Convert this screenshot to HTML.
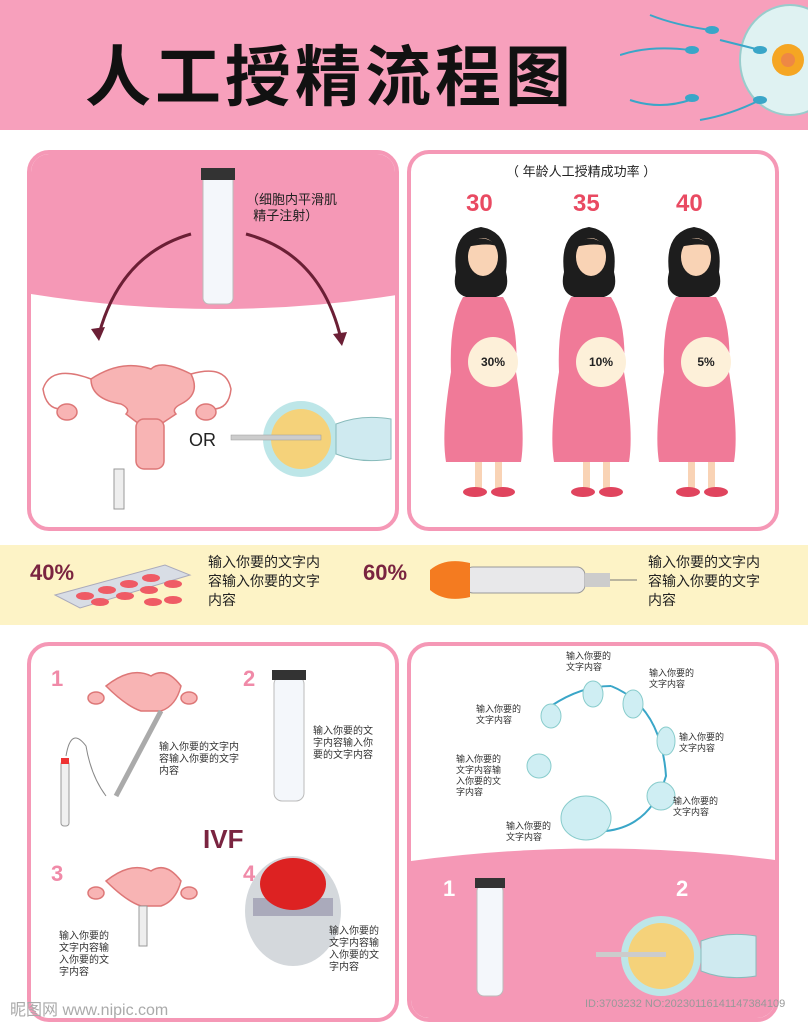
<!DOCTYPE html>
<html><head><meta charset="utf-8"><style>
body{margin:0;width:808px;height:1024px;position:relative;background:#fff;font-family:"Liberation Sans","Noto Sans CJK SC",sans-serif;overflow:hidden}
.a{position:absolute}
.panel{position:absolute;border:4px solid #f598b6;border-radius:22px;background:#fff;overflow:hidden;box-sizing:border-box}
.t{position:absolute;font-size:10px;line-height:12px;color:#333}
.num{position:absolute;font-size:22px;font-weight:bold;color:#f08aa8}
</style></head><body>
<div class="a" style="left:0;top:0;width:808px;height:130px;background:#f7a0bc"></div>
<div class="a" style="left:85px;top:24px;font-size:66px;font-weight:bold;color:#111;letter-spacing:4px;font-family:'Noto Sans CJK SC',sans-serif">人工授精流程图</div>
<svg class="a" style="left:620px;top:0" width="188" height="130">
<ellipse cx="790" cy="60" rx="50" ry="55" fill="#dff2f2" stroke="#9cc" stroke-width="2" transform="translate(-620,0)"/>
<circle cx="168" cy="60" r="16" fill="#f5a623"/><circle cx="168" cy="60" r="7" fill="#e84"/>
<g stroke="#3aa6c8" stroke-width="2" fill="none"><path d="M30 15 q25 10 60 15"/><path d="M0 55 q30 -10 70 -5"/><path d="M10 100 q30 10 60 0"/><path d="M80 120 q30 -5 60 -20"/><path d="M100 40 q20 5 40 10"/></g>
<g fill="#3aa6c8"><ellipse cx="92" cy="30" rx="7" ry="4"/><ellipse cx="72" cy="50" rx="7" ry="4"/><ellipse cx="72" cy="98" rx="7" ry="4"/><ellipse cx="140" cy="100" rx="7" ry="4"/><ellipse cx="140" cy="50" rx="7" ry="4"/></g>
</svg>

<div class="panel" style="left:27px;top:150px;width:372px;height:381px">
<svg class="a" style="left:0;top:0" width="372" height="381">
<path d="M0 0 H372 V140 Q186 170 0 140 Z" fill="#f598b6"/>
<path d="M160 80 Q90 100 68 180" stroke="#6b1f35" stroke-width="3" fill="none"/><path d="M60 175 l8 12 l6 -14z" fill="#6b1f35"/>
<path d="M215 80 Q290 100 310 185" stroke="#6b1f35" stroke-width="3" fill="none"/><path d="M302 180 l9 12 l5 -14z" fill="#6b1f35"/>
<rect x="172" y="20" width="30" height="130" rx="6" fill="#f4f7fb" stroke="#bbb"/>
<rect x="170" y="14" width="34" height="12" fill="#333"/>
<g fill="#f8b4b4" stroke="#d77" stroke-width="1.5">
<path d="M60 225 Q90 205 120 215 Q130 205 160 220 Q170 240 150 250 Q140 255 145 260 L130 270 L108 270 L95 260 Q100 255 90 250 Q60 245 60 225Z"/>
<path d="M60 225 Q20 210 12 235 Q15 255 30 255" fill="none"/>
<path d="M160 220 Q195 210 200 235 Q198 255 182 255" fill="none"/>
<ellipse cx="36" cy="258" rx="10" ry="8"/><ellipse cx="175" cy="258" rx="10" ry="8"/>
<rect x="105" y="265" width="28" height="50" rx="8"/>
</g>
<rect x="83" y="315" width="10" height="40" fill="#eee" stroke="#999"/>
<text x="158" y="292" font-size="18" font-family="Liberation Sans" fill="#222">OR</text>
<circle cx="270" cy="285" r="38" fill="#bde6e8"/><circle cx="270" cy="285" r="30" fill="#f5d27a"/>
<rect x="200" y="281" width="90" height="5" fill="#ccc" stroke="#999" stroke-width=".5"/>
<path d="M305 270 Q330 260 360 265 V305 Q330 310 305 300 Z" fill="#cfeaf0" stroke="#8bb"/>
</svg>
<div class="t" style="left:215px;top:38px;font-size:13px;line-height:16px;color:#222">（细胞内平滑肌<br>&nbsp;&nbsp;精子注射）</div>
</div>

<div class="panel" style="left:407px;top:150px;width:372px;height:381px">
<div class="t" style="left:95px;top:12px;font-size:13px;color:#222">（ 年龄人工授精成功率 ）</div>
<div class="a" style="left:55px;top:36px;font-size:24px;font-weight:bold;color:#e94a62">30</div>
<div class="a" style="left:162px;top:36px;font-size:24px;font-weight:bold;color:#e94a62">35</div>
<div class="a" style="left:265px;top:36px;font-size:24px;font-weight:bold;color:#e94a62">40</div>
<svg class="a" style="left:0;top:0" width="372" height="381">
<defs><g id="w">
<path d="M-25 30 Q-30 -10 0 -15 Q30 -10 25 30 Q30 50 15 55 L-15 55 Q-30 50 -25 30Z" fill="#1d1d1d"/>
<ellipse cx="2" cy="15" rx="15" ry="19" fill="#f9d3b5"/>
<path d="M-14 5 Q0 -12 18 5 Q8 0 -14 5Z" fill="#1d1d1d"/>
<path d="M-18 55 Q-32 80 -30 130 Q-40 190 -35 220 L40 220 Q45 190 35 130 Q38 80 22 55Z" fill="#f07a98"/>
<rect x="-6" y="220" width="7" height="28" fill="#f9d3b5"/><rect x="14" y="220" width="7" height="28" fill="#f9d3b5"/>
<ellipse cx="-6" cy="250" rx="12" ry="5" fill="#e0445e"/><ellipse cx="22" cy="250" rx="12" ry="5" fill="#e0445e"/>
<circle cx="12" cy="120" r="25" fill="#fdf0d9"/>
</g></defs>
<use href="#w" x="70" y="88"/><use href="#w" x="178" y="88"/><use href="#w" x="283" y="88"/>
<g font-size="12" font-weight="bold" font-family="Liberation Sans" text-anchor="middle" fill="#222">
<text x="82" y="212">30%</text><text x="190" y="212">10%</text><text x="295" y="212">5%</text></g>
</svg>
</div>

<div class="a" style="left:0;top:545px;width:808px;height:80px;background:#fdf3c6"></div>
<div class="a" style="left:30px;top:560px;font-size:22px;font-weight:bold;color:#7a2440">40%</div>
<div class="a" style="left:363px;top:560px;font-size:22px;font-weight:bold;color:#7a2440">60%</div>
<svg class="a" style="left:45px;top:560px" width="150" height="55"><path d="M10 35 L120 5 L145 15 L35 48Z" fill="#d8dde5" stroke="#aab"/>
<g fill="#ef5b65"><ellipse cx="40" cy="36" rx="9" ry="4"/><ellipse cx="62" cy="30" rx="9" ry="4"/><ellipse cx="84" cy="24" rx="9" ry="4"/><ellipse cx="106" cy="18" rx="9" ry="4"/><ellipse cx="55" cy="42" rx="9" ry="4"/><ellipse cx="80" cy="36" rx="9" ry="4"/><ellipse cx="104" cy="30" rx="9" ry="4"/><ellipse cx="128" cy="24" rx="9" ry="4"/><ellipse cx="108" cy="42" rx="9" ry="4"/><ellipse cx="128" cy="40" rx="9" ry="4"/></g></svg>
<div class="t" style="left:208px;top:553px;font-size:14px;line-height:19px;color:#222">输入你要的文字内<br>容输入你要的文字<br>内容</div>
<svg class="a" style="left:425px;top:555px" width="215" height="60"><rect x="40" y="12" width="120" height="26" rx="8" fill="#e8e8ea" stroke="#999"/><rect x="160" y="18" width="25" height="14" fill="#ccc"/><line x1="185" y1="25" x2="212" y2="25" stroke="#777"/><path d="M5 15 Q20 2 45 8 V42 Q20 48 5 35Z" fill="#f47b20"/></svg>
<div class="t" style="left:648px;top:553px;font-size:14px;line-height:19px;color:#222">输入你要的文字内<br>容输入你要的文字<br>内容</div>

<div class="panel" style="left:27px;top:642px;width:372px;height:380px">
<div class="num" style="left:20px;top:20px">1</div><div class="num" style="left:212px;top:20px">2</div>
<div class="num" style="left:20px;top:215px">3</div><div class="num" style="left:212px;top:215px">4</div>
<div class="a" style="left:172px;top:178px;font-size:26px;font-weight:bold;color:#7a2440">IVF</div>
<svg class="a" style="left:0;top:0" width="372" height="380">
<g fill="#f8b4b4" stroke="#d77" stroke-width="1.5">
<path d="M75 40 Q100 20 120 30 Q135 20 150 40 Q145 60 130 65 L110 65 Q95 60 75 40Z"/><ellipse cx="65" cy="52" rx="8" ry="6"/><ellipse cx="158" cy="52" rx="8" ry="6"/>
<path d="M75 235 Q100 215 120 225 Q135 215 150 235 Q145 255 130 260 L110 260 Q95 255 75 235Z"/><ellipse cx="65" cy="247" rx="8" ry="6"/><ellipse cx="158" cy="247" rx="8" ry="6"/>
</g>
<rect x="30" y="115" width="8" height="65" rx="3" fill="#f0f0f0" stroke="#999"/><rect x="30" y="112" width="8" height="6" fill="#e33"/>
<path d="M130 65 L85 150" stroke="#aaa" stroke-width="5"/><path d="M35 110 Q40 80 55 100 Q60 130 75 150" stroke="#888" fill="none"/>
<rect x="243" y="30" width="30" height="125" rx="8" fill="#f4f7fb" stroke="#bbb"/><rect x="241" y="24" width="34" height="10" fill="#333"/>
<rect x="108" y="260" width="8" height="40" fill="#eee" stroke="#999"/>
<ellipse cx="262" cy="265" rx="48" ry="55" fill="#d4d8dc"/><rect x="222" y="252" width="80" height="18" fill="#aab"/>
<ellipse cx="262" cy="238" rx="33" ry="26" fill="#d22"/>
</svg>
<div class="t" style="left:128px;top:96px">输入你要的文字内<br>容输入你要的文字<br>内容</div>
<div class="t" style="left:282px;top:80px">输入你要的文<br>字内容输入你<br>要的文字内容</div>
<div class="t" style="left:28px;top:285px">输入你要的<br>文字内容输<br>入你要的文<br>字内容</div>
<div class="t" style="left:298px;top:280px">输入你要的<br>文字内容输<br>入你要的文<br>字内容</div>
</div>

<div class="panel" style="left:407px;top:642px;width:372px;height:380px">
<svg class="a" style="left:0;top:0" width="372" height="380">
<path d="M0 215 Q186 190 372 215 V380 H0Z" fill="#f598b6"/>
<path d="M200 40 Q250 60 255 130 Q240 180 195 185" stroke="#3aa6c8" stroke-width="2" fill="none"/>
<path d="M140 60 Q170 40 200 40" stroke="#3aa6c8" stroke-width="2" fill="none"/>
<g fill="#cfeef3" stroke="#8cc"><ellipse cx="182" cy="48" rx="10" ry="13"/><ellipse cx="222" cy="58" rx="10" ry="14"/><ellipse cx="140" cy="70" rx="10" ry="12"/><ellipse cx="255" cy="95" rx="9" ry="14"/><ellipse cx="128" cy="120" rx="12" ry="12"/><ellipse cx="250" cy="150" rx="14" ry="14"/><ellipse cx="175" cy="172" rx="25" ry="22"/></g>
<rect x="66" y="238" width="26" height="112" rx="7" fill="#f4f7fb" stroke="#bbb"/><rect x="64" y="232" width="30" height="10" fill="#333"/>
<circle cx="250" cy="310" r="40" fill="#bde6e8"/><circle cx="250" cy="310" r="33" fill="#f5d27a"/>
<rect x="185" y="306" width="70" height="5" fill="#ccc"/>
<path d="M290 295 Q315 285 345 290 V330 Q315 335 290 325Z" fill="#cfeaf0" stroke="#8bb"/>
</svg>
<div class="num" style="left:32px;top:230px;color:#fff">1</div>
<div class="num" style="left:265px;top:230px;color:#fff">2</div>
<div class="t" style="left:155px;top:5px;font-size:9px;line-height:11px">输入你要的<br>文字内容</div>
<div class="t" style="left:238px;top:22px;font-size:9px;line-height:11px">输入你要的<br>文字内容</div>
<div class="t" style="left:65px;top:58px;font-size:9px;line-height:11px">输入你要的<br>文字内容</div>
<div class="t" style="left:268px;top:86px;font-size:9px;line-height:11px">输入你要的<br>文字内容</div>
<div class="t" style="left:45px;top:108px;font-size:9px;line-height:11px">输入你要的<br>文字内容输<br>入你要的文<br>字内容</div>
<div class="t" style="left:262px;top:150px;font-size:9px;line-height:11px">输入你要的<br>文字内容</div>
<div class="t" style="left:95px;top:175px;font-size:9px;line-height:11px">输入你要的<br>文字内容</div>
</div>
<div class="a" style="left:10px;top:996px;font-size:16px;color:#aaa">昵图网 www.nipic.com</div>
<div class="a" style="left:585px;top:998px;font-size:11px;color:#999">ID:3703232 NO:20230116141147384109</div>
</body></html>
